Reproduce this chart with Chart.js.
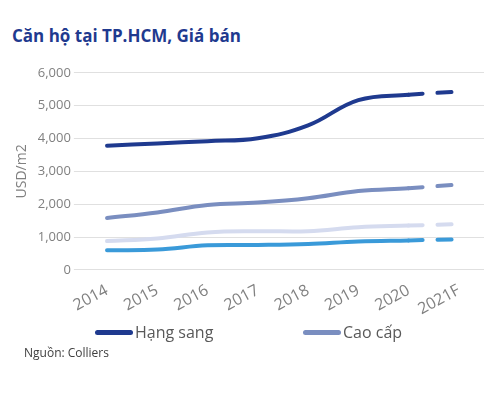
<!DOCTYPE html>
<html><head><meta charset="utf-8">
<script src="https://cdn.jsdelivr.net/npm/chart.js@4"></script>
<style>
body{margin:0;background:#fff;font-family:"Open Sans",sans-serif;}
#t{position:absolute;left:12px;top:24px;font-size:17px;font-weight:bold;color:#1F3A8F;}
#s{position:absolute;left:24px;top:344px;font-size:12px;color:#404040;}
#w{position:absolute;left:0;top:62px;width:498px;height:260px;}
.lg{position:absolute;top:321px;font-size:16px;color:#595959;display:flex;align-items:center;}
.lg span{display:inline-block;width:38px;height:5px;border-radius:3px;margin-right:2px;}
</style></head><body>
<div id="t">Căn hộ tại TP.HCM, Giá bán</div>
<div id="w"><canvas id="c"></canvas></div>
<div class="lg" style="left:95px"><span style="background:#1F3A8F"></span>Hạng sang</div>
<div class="lg" style="left:303px"><span style="background:#7A8EC0"></span>Cao cấp</div>
<div id="s">Nguồn: Colliers</div>
<script>
const categories=["2014","2015","2016","2017","2018","2019","2020","2021F"];
const hangSang=[3780,3850,3920,4010,4400,5170,5330,5430];
const caoCap=[1580,1750,1980,2050,2180,2400,2490,2600];
const trungCap=[880,960,1140,1180,1180,1300,1350,1400];
const binhDan=[600,620,750,760,790,870,900,930];
const names=["Hạng sang","Cao cấp","Trung cấp","Bình dân"];
const colors=["#1F3A8F","#7A8EC0","#D5DBEF","#3A9AD9"];
const series=[hangSang,caoCap,trungCap,binhDan];
new Chart(document.getElementById('c'),{type:'line',
data:{labels:categories,datasets:series.map((d,i)=>({label:names[i],data:d,borderColor:colors[i],backgroundColor:colors[i],borderWidth:4,pointRadius:0,tension:0.4,borderCapStyle:'round',
segment:{borderDash:ctx=>ctx.p1DataIndex===7?[14,15]:undefined}}))},
options:{responsive:true,maintainAspectRatio:false,animation:false,
layout:{padding:{left:10,right:14,top:6}},
plugins:{legend:{display:false},tooltip:{enabled:false}},
scales:{x:{offset:true,grid:{display:false},border:{display:false},ticks:{color:'#808080',font:{family:'Open Sans',size:16}}},
y:{min:0,max:6000,ticks:{stepSize:1000,color:'#808080',font:{family:'Open Sans',size:13},callback:v=>v.toLocaleString('en-US')},grid:{color:'#E0E0E0'},border:{display:false},
title:{display:true,text:'USD/m2',color:'#808080',font:{family:'Open Sans',size:14}}}}}});
</script></body></html>
